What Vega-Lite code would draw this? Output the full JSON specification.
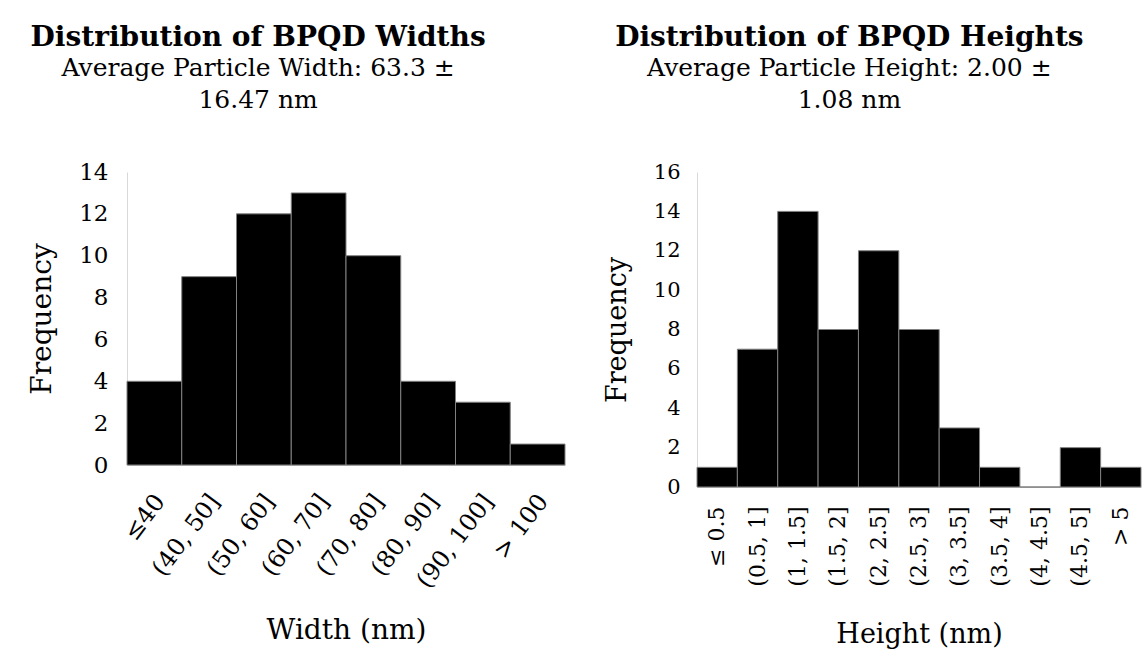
{
  "$schema": "https://vega.github.io/schema/vega-lite/v6.json",
  "background": "white",
  "padding": {"left": 28, "top": 24, "right": 5, "bottom": 5},
  "spacing": 37,
  "config": {
    "font": "DejaVu Serif",
    "view": {"stroke": null},
    "title": {"font": "DejaVu Serif", "fontSize": 28, "fontWeight": "bold", "color": "black", "subtitleFont": "DejaVu Serif", "subtitleFontSize": 25, "subtitleColor": "black", "anchor": "middle", "frame": "bounds", "subtitlePadding": 4, "offset": 48, "subtitleLineHeight": 32},
    "axis": {"labelFont": "DejaVu Serif", "titleFont": "DejaVu Serif", "titleFontWeight": "normal", "labelColor": "black", "titleColor": "black", "ticks": false, "grid": false, "domainColor": "#d9d9d9"}
  },
  "datasets": {
    "widths": [
      {"bin": "≤40", "count": 4},
      {"bin": "(40, 50]", "count": 9},
      {"bin": "(50, 60]", "count": 12},
      {"bin": "(60, 70]", "count": 13},
      {"bin": "(70, 80]", "count": 10},
      {"bin": "(80, 90]", "count": 4},
      {"bin": "(90, 100]", "count": 3},
      {"bin": "> 100", "count": 1}
    ],
    "heights": [
      {"bin": "≤ 0.5", "count": 1},
      {"bin": "(0.5, 1]", "count": 7},
      {"bin": "(1, 1.5]", "count": 14},
      {"bin": "(1.5, 2]", "count": 8},
      {"bin": "(2, 2.5]", "count": 12},
      {"bin": "(2.5, 3]", "count": 8},
      {"bin": "(3, 3.5]", "count": 3},
      {"bin": "(3.5, 4]", "count": 1},
      {"bin": "(4, 4.5]", "count": 0},
      {"bin": "(4.5, 5]", "count": 2},
      {"bin": "> 5", "count": 1}
    ]
  },
  "hconcat": [
    {
      "width": 438,
      "height": 293,
      "title": {"text": "Distribution of BPQD Widths", "subtitle": ["Average Particle Width: 63.3 ±", "16.47 nm"], "dx": -39},
      "data": {"name": "widths"},
      "mark": {"type": "bar", "color": "black", "stroke": "#808080", "strokeWidth": 1},
      "encoding": {
        "x": {"field": "bin", "type": "nominal", "sort": null, "title": "Width (nm)", "scale": {"paddingInner": 0, "paddingOuter": 0}, "axis": {"labelAngle": -53, "labelFontSize": 24, "titleFontSize": 28, "labelPadding": 32, "labelOffset": 6, "domainColor": "#bfbfbf", "titlePadding": 24}},
        "y": {"field": "count", "type": "quantitative", "title": "Frequency", "scale": {"domain": [0, 14]}, "axis": {"values": [0, 2, 4, 6, 8, 10, 12, 14], "labelFontSize": 23, "titleFontSize": 28, "labelPadding": 19, "titlePadding": 22}}
      }
    },
    {
      "width": 444,
      "height": 315,
      "title": {"text": "Distribution of BPQD Heights", "subtitle": ["Average Particle Height: 2.00 ±", "1.08 nm"], "dx": -23},
      "data": {"name": "heights"},
      "mark": {"type": "bar", "color": "black", "stroke": "#808080", "strokeWidth": 1},
      "encoding": {
        "x": {"field": "bin", "type": "nominal", "sort": null, "title": "Height (nm)", "scale": {"paddingInner": 0, "paddingOuter": 0}, "axis": {"labelAngle": -90, "labelFontSize": 22, "titleFontSize": 27, "labelPadding": 19, "domainColor": "#bfbfbf", "titlePadding": 35}},
        "y": {"field": "count", "type": "quantitative", "title": "Frequency", "scale": {"domain": [0, 16]}, "axis": {"values": [0, 2, 4, 6, 8, 10, 12, 14, 16], "labelFontSize": 21, "titleFontSize": 27, "labelPadding": 17, "titlePadding": 22}}
      }
    }
  ]
}
